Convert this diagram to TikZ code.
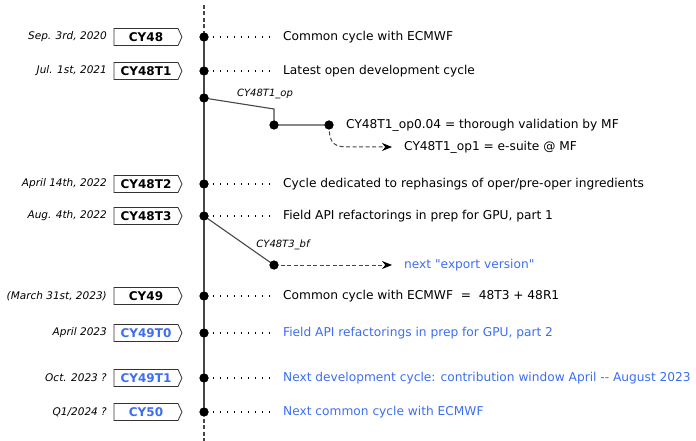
\documentclass[tikz,border=0pt]{standalone}
\usepackage{fontspec}
\newfontfamily\dv{DejaVu Sans}
\usetikzlibrary{shapes.symbols,arrows.meta}
\definecolor{myblue}{RGB}{60,110,240}
\definecolor{lineg}{RGB}{70,70,70}
\tikzset{
  x=1pt,y=-1pt,
  tagbox/.style={draw=black!80,line width=0.8pt,signal,signal to=east,signal pointer angle=130,
    minimum width=68pt,minimum height=17pt,inner sep=0pt,font=\dv\fontsize{12}{14}\selectfont\bfseries},
  datelbl/.style={anchor=east,inner sep=0pt,font=\dv\fontsize{10.5}{12}\selectfont\itshape},
  desc/.style={anchor=west,inner sep=0pt,font=\dv\fontsize{12.2}{14}\selectfont},
  brlbl/.style={inner sep=0pt,font=\dv\fontsize{10}{12}\selectfont\itshape},
  dotc/.style={circle,fill=black,inner sep=0pt,minimum size=9pt},
  leader/.style={line width=1.3pt,dash pattern=on 1.3pt off 5.7pt},
  tl/.style={line width=1.2pt,draw=lineg},
  br/.style={line width=1.1pt,draw=lineg},
  dasharr/.style={line width=1pt,draw=lineg,dash pattern=on 4pt off 2.5pt,-{Stealth[length=10pt,width=8pt,color=black]}}
}
\begin{document}
\begin{tikzpicture}
\useasboundingbox (0,0) rectangle (696,441);
% timeline coordinates
\coordinate (top) at (204,5);
\coordinate (bot) at (204,441);
\node[dotc] (d48) at (204,37) {};
\node[dotc] (d48t1) at (204,71) {};
\node[dotc] (dop) at (204,98) {};
\node[dotc] (d48t2) at (204,184) {};
\node[dotc] (d48t3) at (204,216) {};
\node[dotc] (d49) at (204,296) {};
\node[dotc] (d49t0) at (204,333) {};
\node[dotc] (d49t1) at (204,378) {};
\node[dotc] (d50) at (204,412) {};
\draw[tl,dash pattern=on 4pt off 2.5pt] (top) -- (d48.center);
\draw[tl] (d48.center) -- (d50.center);
\draw[tl,dash pattern=on 4pt off 2.5pt] (d50.center) -- (bot);
% tags
\node[tagbox] (t48) at (146,37) {CY48};
\node[tagbox] (t48t1) at (146,71) {CY48T1};
\node[tagbox] (t48t2) at (146,184) {CY48T2};
\node[tagbox] (t48t3) at (146,216) {CY48T3};
\node[tagbox] (t49) at (146,296) {CY49};
\node[tagbox,text=myblue] (t49t0) at (146,333) {CY49T0};
\node[tagbox,text=myblue] (t49t1) at (146,378) {CY49T1};
\node[tagbox,text=myblue] (t50) at (146,412) {CY50};
% dates
\node[datelbl] (a48) at (107,37) {Sep. 3rd, 2020};
\node[datelbl] (a48t1) at (107,71) {Jul. 1st, 2021};
\node[datelbl] (a48t2) at (107,184) {April 14th, 2022};
\node[datelbl] (a48t3) at (107,216) {Aug. 4th, 2022};
\node[datelbl] (a49) at (107,296) {(March 31st, 2023)};
\node[datelbl] (a49t0) at (107,333) {April 2023};
\node[datelbl] (a49t1) at (107,378) {Oct. 2023 ?};
\node[datelbl] (a50) at (107,412) {Q1/2024 ?};
% descriptions
\node[desc] (e48) at (283,37) {Common cycle with ECMWF};
\node[desc] (e48t1) at (283,71) {Latest open development cycle};
\node[desc] (e48t2) at (283,184) {Cycle dedicated to rephasings of oper/pre-oper ingredients};
\node[desc] (e48t3) at (283,216) {Field API refactorings in prep for GPU, part 1};
\node[desc] (e49) at (283,296) {Common cycle with ECMWF\ \ =\ \ 48T3 + 48R1};
\node[desc,text=myblue] (e49t0) at (283,333) {Field API refactorings in prep for GPU, part 2};
\node[desc,text=myblue] (e49t1) at (283,378) {Next development cycle: contribution window April -- August 2023};
\node[desc,text=myblue] (e50) at (283,412) {Next common cycle with ECMWF};
% leaders
\foreach \a/\b in {d48/e48,d48t1/e48t1,d48t2/e48t2,d48t3/e48t3,d49/e49,d49t0/e49t0,d49t1/e49t1,d50/e50}{
  \draw[leader] ([xshift=9pt]\a.center) -- ([xshift=-11pt]\b.west);
}
% branch op
\coordinate (bend) at (274,109);
\node[dotc] (op1) at (274,125) {};
\node[dotc] (op2) at (329,125) {};
\draw[br] (dop.center) -- (bend) -- (op1.center) -- (op2.center);
\node[brlbl] (lop) at (265,94) {CY48T1\_op};
\node[desc] (eop) at (346,125) {CY48T1\_op0.04 = thorough validation by MF};
\coordinate (arr1) at (392,147);
\node[desc] (eop1) at (404,147) {CY48T1\_op1 = e-suite @ MF};
\draw[dasharr] (op2.center) .. controls (329,145) and (335,147) .. (350,147) -- (arr1);
% branch bf
\node[dotc] (bf) at (274,265) {};
\draw[br] (d48t3.center) -- (bf.center);
\node[brlbl] (lbf) at (283,245) {CY48T3\_bf};
\coordinate (arr2) at (392,265);
\draw[dasharr] (bf.center) -- (arr2);
\node[desc,text=myblue] (ebf) at (404,265) {next "export version"};
% dots on top
\foreach \n in {d48,d48t1,dop,d48t2,d48t3,d49,d49t0,d49t1,d50,op1,op2,bf}{\fill (\n.center) circle (4.5pt);}
\end{tikzpicture}
\end{document}
